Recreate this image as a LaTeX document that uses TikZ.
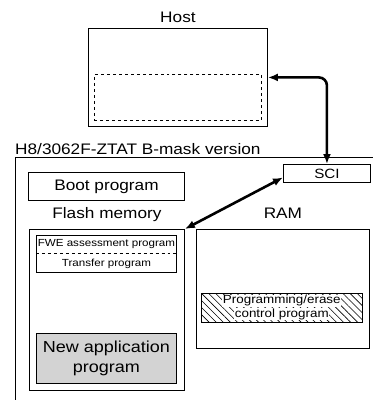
\documentclass[tikz,border=0pt]{standalone}
\usepackage{fontspec}
\setmainfont{Liberation Sans}[FakeStretch=1.13]
\usepackage{xcolor}
\usetikzlibrary{arrows.meta, positioning, patterns.meta}
\definecolor{appgray}{RGB}{211,211,211}

\tikzset{
  blk/.style={draw, line width=0.9pt, inner sep=0pt, anchor=north west},
  lbl/.style={font=\fontsize{15.3}{17}\selectfont, inner sep=0pt},
  midtxt/.style={font=\fontsize{11.9}{14}\selectfont, inner sep=0.5bp},
  smalltxt/.style={font=\fontsize{10.3}{12}\selectfont, inner sep=0pt},
  link/.style={line width=2.6pt, {Latex[length=10bp,width=8bp]}-{Latex[length=10bp,width=8bp]}},
}

\begin{document}
\begin{tikzpicture}[x=1bp, y=-1bp]
  \useasboundingbox (0,0) rectangle (373,403);

  % Host
  \node[blk, minimum width=179bp, minimum height=98bp] (host) at (88,28) {};
  \node[blk, dashed, line width=0.7pt, minimum width=167bp, minimum height=46bp] (hostbuf) at (94,74) {};
  \node[lbl, anchor=base] (hostlbl) at ([yshift=6bp]host.north) {Host};

  % Chip outline
  \draw[line width=0.9pt] (373,157) -- (15,157) -- (15,400);
  \node[lbl, anchor=base west] (chiplbl) at (15,154) {H8/3062F-ZTAT B-mask version};

  \node[blk, lbl, minimum width=156bp, minimum height=28bp] (boot) at (28,172) {Boot program};
  \node[blk, font=\fontsize{13.5}{15}\selectfont, minimum width=87bp, minimum height=18bp] (sci) at (283,164) {SCI};

  % Flash memory
  \node[blk, minimum width=155bp, minimum height=161bp] (flash) at (29,229) {};
  \node[lbl, anchor=base] (flashlbl) at ([yshift=11bp]flash.north) {Flash memory};
  \node[blk, minimum width=140bp, minimum height=37bp] (fwe) at (36,235) {};
  \draw[dashed, line width=0.7pt] ([yshift=-18bp]fwe.north west) -- ([yshift=-18bp]fwe.north east);
  \node[smalltxt] (fwetxt) at ([yshift=-9bp]fwe.north) {FWE assessment program};
  \node[smalltxt] (trtxt) at ([yshift=9bp]fwe.south) {Transfer program};
  \node[blk, fill=appgray, align=center, font=\fontsize{16}{19.5}\selectfont,
        minimum width=140bp, minimum height=50bp] (newapp) at (36,333) {New application\\program};

  % RAM
  \node[blk, minimum width=173bp, minimum height=119bp] (ram) at (196,229) {};
  \node[lbl, anchor=base] (ramlbl) at ([yshift=11bp]ram.north) {RAM};
  \node[blk, pattern={Lines[angle=-45, distance=5bp, line width=0.6pt]},
        minimum width=161bp, minimum height=29bp] (prog) at (201,293) {};
  \node[midtxt, fill=white] (progtop) at ([yshift=7bp]prog.center) {Programming/erase};
  \node[midtxt, fill=white] (progbot) at ([yshift=-6.5bp]prog.center) {control program};

  % links
  \draw[link, rounded corners=8bp] (sci.north) |- (host.east);
  \draw[link] (flash.north east) -- ([yshift=-4bp]sci.west);
\end{tikzpicture}
\end{document}
